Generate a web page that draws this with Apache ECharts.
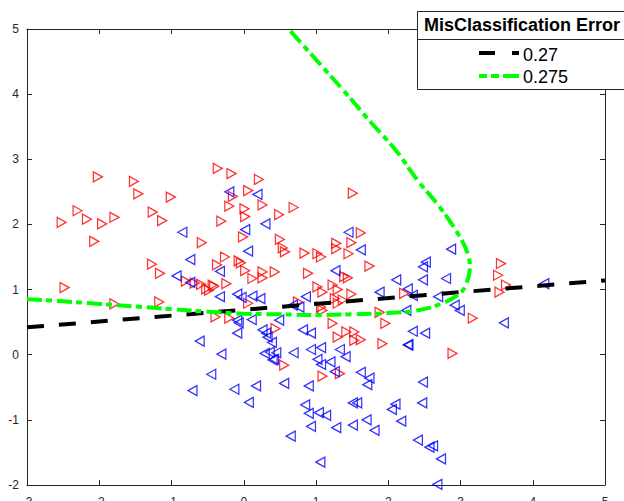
<!DOCTYPE html>
<html><head><meta charset="utf-8">
<script src="https://cdn.jsdelivr.net/npm/echarts@6/dist/echarts.min.js"></script>
<style>html,body{margin:0;padding:0;background:#fff}#c{width:624px;height:501px}</style>
</head><body><div id="c"></div>
<script>
const xRange = [-3, 5];
const yRange = [-2, 5];
const legendTitle = 'MisClassification Error';
const legendLabels = ['0.27', '0.275'];

const redPoints = [
[-2.52,2.03],[-2.48,1.03],[-2.30,2.21],[-2.17,2.08],[-2.02,2.73],[-2.07,1.74],[-1.96,2.01],[-1.79,2.11],[-1.79,0.78],
[-1.52,2.66],[-1.46,2.47],[-1.26,2.19],[-1.13,2.06],[-1.01,2.42],[-1.27,1.39],[-1.16,1.25],[-1.17,0.81],[-0.58,1.72],
[-0.80,1.13],[-0.68,1.10],[-0.59,1.08],[-0.48,0.99],[-0.41,1.05],[-0.43,1.07],[-0.52,1.01],[-0.36,2.86],[-0.17,2.78],
[-0.15,2.43],[-0.20,2.28],[-0.31,2.05],[-0.37,1.38],[-0.26,1.50],[-0.24,1.09],[-0.39,0.58],[-0.20,0.56],[-0.07,1.44],
[-0.04,1.41],[-0.01,1.81],[0.06,2.52],[0.01,2.24],[0.02,2.12],[0.21,2.69],[0.26,2.30],[0.02,1.29],[0.12,1.17],[0.26,1.27],
[0.26,1.18],[0.43,1.27],[0.06,0.79],[0.49,2.15],[0.69,2.26],[0.50,1.77],[0.54,1.64],[0.57,1.58],[0.84,1.56],[1.02,1.55],
[1.07,1.50],[0.89,1.25],[1.02,1.04],[0.75,0.81],[0.44,0.40],[1.51,2.48],[1.62,1.87],[1.28,1.71],[1.28,1.63],[1.49,1.72],
[1.45,1.55],[1.74,1.36],[1.39,1.20],[1.44,1.18],[1.09,0.96],[1.23,1.07],[1.30,1.00],[1.49,0.93],[1.26,0.86],[1.37,0.84],
[1.30,0.79],[1.07,0.73],[1.09,0.68],[1.23,0.48],[1.88,0.65],[1.96,0.48],[2.22,0.94],[3.17,0.56],[3.56,1.40],[3.52,1.22],
[3.63,1.07],[3.54,0.96],[1.42,0.35],[1.53,0.35],[1.53,0.22],[1.62,0.23],[1.30,0.27],[1.92,0.17],[0.56,-0.16],[1.09,-0.33],
[1.33,-0.29],[2.89,0.02]
];

const bluePoints = [
[-0.85,1.88],[-0.74,1.46],[-0.93,1.21],[-0.74,1.11],[-0.33,1.28],[-0.33,0.89],[-0.20,2.50],[0.19,2.46],[0.02,1.92],
[0.30,2.01],[0.06,1.59],[-0.09,0.93],[-0.03,0.88],[0.12,0.90],[0.23,0.86],[-0.09,0.53],[-0.07,0.49],[0.11,0.54],
[-0.09,0.33],[-0.61,0.21],[0.26,0.38],[0.31,0.33],[0.39,0.19],[0.49,0.53],[0.68,0.76],[0.77,0.73],[0.86,0.89],[0.82,0.38],
[0.93,0.33],[1.45,1.88],[1.62,1.61],[1.27,1.29],[1.88,0.96],[2.11,1.15],[2.27,1.01],[2.48,1.15],[2.48,1.35],[2.52,1.42],
[2.80,1.17],[2.87,1.62],[2.69,0.89],[2.25,0.68],[2.34,0.91],[2.92,0.76],[2.99,0.68],[4.16,1.09],[3.60,0.49],[2.34,0.36],
[2.51,0.33],[2.27,0.15],[-0.31,0.01],[-0.45,-0.30],[-0.71,-0.55],[-0.13,-0.53],[0.17,-0.48],[0.07,-0.73],[0.29,0.02],
[0.36,0.04],[0.45,0.03],[0.42,-0.07],[0.69,0.03],[0.56,-0.44],[0.90,-0.48],[0.93,0.08],[1.07,0.11],[1.02,-0.07],[1.07,-0.15],
[1.20,-0.11],[1.33,0.08],[1.41,-0.03],[1.26,-0.26],[1.62,-0.27],[1.74,-0.36],[1.71,-0.46],[0.85,-0.77],[0.90,-0.90],
[1.04,-0.89],[1.14,-0.93],[0.93,-1.10],[0.65,-1.25],[1.28,-1.12],[1.51,-1.08],[1.70,-1.00],[1.81,-1.16],[1.51,-0.74],
[1.57,-0.74],[2.10,-0.76],[2.05,-0.84],[2.18,-1.02],[2.28,0.15],[2.48,-0.42],[2.47,-0.74],[2.41,-1.31],[2.57,-1.42],
[2.62,-1.40],[2.73,-1.60],[1.06,-1.65],[2.68,-1.99],[0.33,0.27],[0.40,-0.08]
];

const boundaryLinear = [[-3,0.42],[5,1.14]];

const boundaryQuadratic = [
[-3.0,0.85],[-2.5,0.82],[-2.0,0.78],[-1.5,0.74],[-1.0,0.70],[-0.5,0.66],[0.0,0.63],[0.5,0.62],[1.0,0.61],[1.5,0.62],
[2.0,0.64],[2.4,0.68],[2.75,0.79],[2.99,0.94],[3.08,1.09],[3.13,1.35],[3.10,1.55],[2.99,1.81],[2.71,2.27],[2.41,2.67],
[2.11,3.13],[1.75,3.58],[1.37,4.07],[1.0,4.53],[0.62,5.0]
];

const axisColor = '#262626';
const font = 'Liberation Sans, Arial, Helvetica, sans-serif';

const chart = echarts.init(document.getElementById('c'), null, {renderer: 'svg'});

function baseAxis(extra) {
  return Object.assign({
    type: 'value', interval: 1, splitLine: {show: false},
    axisLine: {show: true, onZero: false, lineStyle: {color: axisColor, width: 1}},
    axisTick: {show: true, inside: true, length: 5, lineStyle: {color: axisColor}},
  }, extra);
}

chart.setOption({
  animation: false,
  backgroundColor: '#fff',
  grid: {left: 27, right: 19, top: 29, bottom: 16, containLabel: false, outerBoundsMode: 'none'},
  xAxis: [
    baseAxis({min: xRange[0], max: xRange[1], position: 'bottom',
      axisLabel: {show: true, margin: 11, fontSize: 12, color: axisColor, fontFamily: font}}),
    baseAxis({min: xRange[0], max: xRange[1], position: 'top', axisLabel: {show: false}})
  ],
  yAxis: [
    baseAxis({min: yRange[0], max: yRange[1], position: 'left',
      axisLabel: {show: true, margin: 8, fontSize: 12, color: axisColor, fontFamily: font}}),
    baseAxis({min: yRange[0], max: yRange[1], position: 'right', axisLabel: {show: false}})
  ],
  series: [
    {type: 'scatter', data: redPoints, symbol: 'triangle', symbolSize: [10, 9], symbolRotate: -90,
     itemStyle: {color: 'rgba(0,0,0,0)', borderColor: '#ff0000', borderWidth: 1.3}, z: 2},
    {type: 'scatter', data: bluePoints, symbol: 'triangle', symbolSize: [10, 9], symbolRotate: 90,
     itemStyle: {color: 'rgba(0,0,0,0)', borderColor: '#0000ff', borderWidth: 1.3}, z: 2},
    {type: 'line', data: boundaryLinear, showSymbol: false, symbol: 'none', z: 3,
     lineStyle: {color: '#000', width: 4, type: [17, 15], cap: 'butt'}},
    {type: 'line', data: boundaryQuadratic, showSymbol: false, symbol: 'none', smooth: 0.4, z: 4,
     lineStyle: {color: '#00ff00', width: 4, type: [15, 4, 6, 5], cap: 'butt'}}
  ],
  graphic: [
    {type: 'rect', z: 100, shape: {x: 417.5, y: 11.5, width: 230, height: 78},
     style: {fill: '#fff', stroke: axisColor, lineWidth: 1}},
    {type: 'line', z: 101, shape: {x1: 417.5, y1: 39.5, x2: 624, y2: 39.5},
     style: {stroke: axisColor, lineWidth: 1}},
    {type: 'text', z: 101, x: 424, y: 25, style: {text: legendTitle, font: 'bold 18px ' + font,
     fill: '#000', textVerticalAlign: 'middle', verticalAlign: 'middle'}},
    {type: 'line', z: 101, shape: {x1: 479, y1: 53, x2: 519, y2: 53},
     style: {stroke: '#000', lineWidth: 4, lineDash: [16, 17]}},
    {type: 'line', z: 101, shape: {x1: 479, y1: 76, x2: 519, y2: 76},
     style: {stroke: '#00ff00', lineWidth: 4, lineDash: [8, 4, 8, 4, 16]}},
    {type: 'text', z: 101, x: 523, y: 55, style: {text: legendLabels[0], font: '18px ' + font,
     fill: '#000', textVerticalAlign: 'middle', verticalAlign: 'middle'}},
    {type: 'text', z: 101, x: 523, y: 77, style: {text: legendLabels[1], font: '18px ' + font,
     fill: '#000', textVerticalAlign: 'middle', verticalAlign: 'middle'}}
  ]
});
</script></body></html>
